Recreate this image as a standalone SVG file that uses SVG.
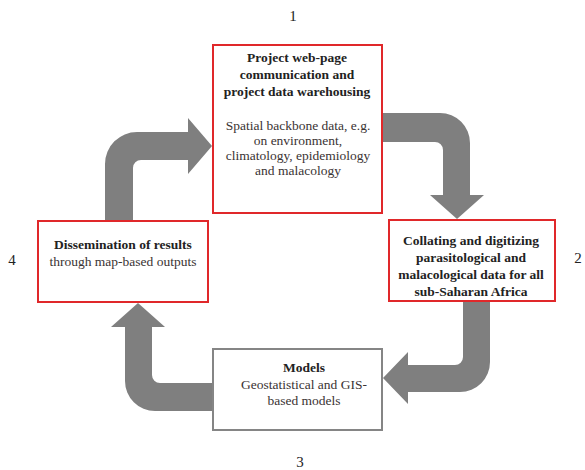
<svg xmlns="http://www.w3.org/2000/svg" width="585" height="470" viewBox="0 0 585 470">
<style>
.arrow{fill:#7f7f7f;stroke:none}
.box{fill:#ffffff;stroke:#e0282a;stroke-width:2}
.box2{fill:#ffffff;stroke:#858585;stroke-width:2}
text{font-family:'Liberation Serif','DejaVu Serif','Times New Roman',serif;font-size:13.5px;text-anchor:middle}
.b{font-weight:bold;fill:#222222}
.n{fill:#3a3333}
.num{font-size:15px;fill:#222222}
</style>
<rect width="585" height="470" fill="#ffffff"/>
<g id="connectors">
<path class="arrow" d="M105,221 L105,164 A32,32 0 0 1 137,132 L188,132 L188,118 L212,146 L188,174 L188,160 L141,160 A8,8 0 0 0 133,168 L133,221 Z"/>
<path class="arrow" d="M382,113 L440,113 A30,30 0 0 1 470,143 L470,195 L484,195 L457,219 L430,195 L443,195 L443,150 A8,8 0 0 0 435,142 L382,142 Z"/>
<path class="arrow" d="M490,301 L490,362 A30,30 0 0 1 460,392 L408,392 L408,404 L383,378 L408,352 L408,365 L455,365 A8,8 0 0 0 463,357 L463,301 Z"/>
<path class="arrow" d="M213,383 L160,383 A8,8 0 0 1 152,375 L152,327 L165,327 L138,303 L111,327 L125,327 L125,381 A30,30 0 0 0 155,411 L213,411 Z"/>
</g>
<g id="node1">
<rect class="box" x="213" y="45" width="169" height="168"/>
<text class="b" x="297" y="62">Project web-page</text>
<text class="b" x="297" y="79">communication and</text>
<text class="b" x="297" y="96">project data warehousing</text>
<text class="n" x="298" y="129.5">Spatial backbone data, e.g.</text>
<text class="n" x="298" y="144.5">on environment,</text>
<text class="n" x="298" y="159.5">climatology, epidemiology</text>
<text class="n" x="298" y="174.5">and malacology</text>
</g>
<g id="node2">
<rect class="box" x="389" y="220" width="166" height="81"/>
<text class="b" x="471" y="245">Collating and digitizing</text>
<text class="b" x="471" y="262">parasitological and</text>
<text class="b" x="471" y="279">malacological data for all</text>
<text class="b" x="471" y="296">sub-Saharan Africa</text>
</g>
<g id="node3">
<rect class="box2" x="213" y="349" width="169" height="81"/>
<text class="b" x="304" y="372">Models</text>
<text class="n" x="304" y="389">Geostatistical and GIS-</text>
<text class="n" x="304" y="405">based models</text>
</g>
<g id="node4">
<rect class="box" x="38" y="221" width="170" height="81"/>
<text class="b" x="123" y="249">Dissemination of results</text>
<text class="n" x="123" y="266">through map-based outputs</text>
</g>
<g id="labels">
<text class="num" x="293" y="21">1</text>
<text class="num" x="578" y="263">2</text>
<text class="num" x="300" y="467">3</text>
<text class="num" x="12" y="265">4</text>
</g>
</svg>
